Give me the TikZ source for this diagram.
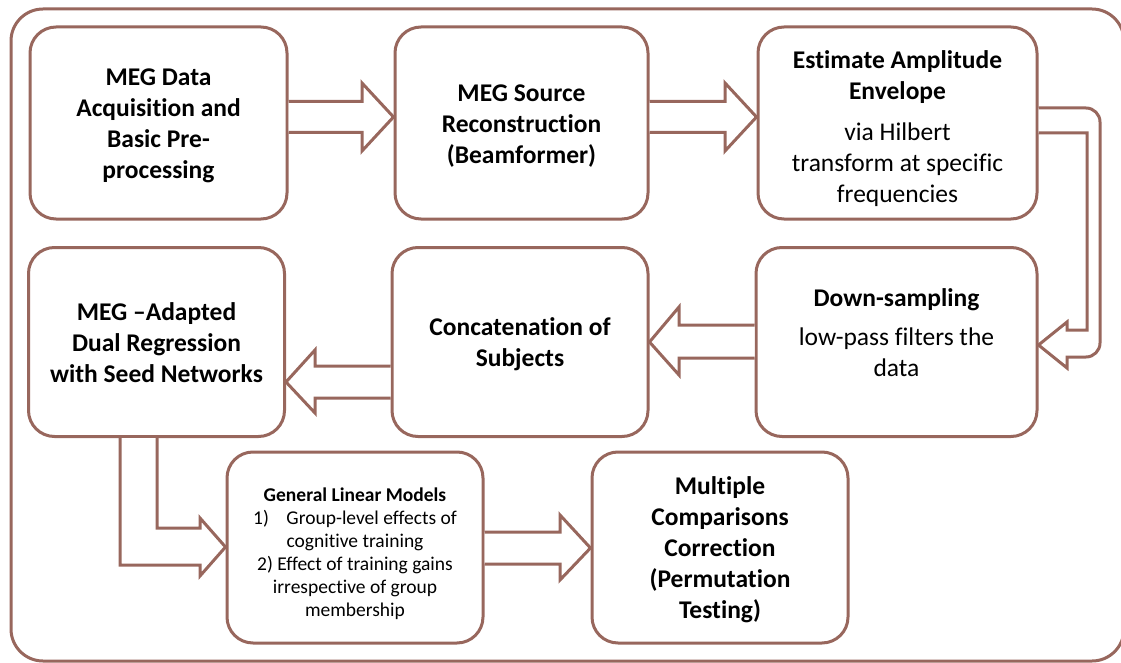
\documentclass[tikz,border=0pt]{standalone}
\usepackage{fontspec}
\setmainfont{Carlito}[Ligatures=NoCommon]
\usetikzlibrary{calc}
\definecolor{brn}{RGB}{152,103,93}
\begin{document}
\begin{tikzpicture}[x=1pt,y=-1pt,
  box/.style={draw=brn,line width=3pt,rounded corners=26pt,fill=white,inner sep=0pt},
  txt/.style={align=center,inner sep=0pt,font=\fontsize{25.5}{31}\selectfont\bfseries},
  barrow/.style={draw=brn,line width=3pt,fill=white,line join=miter},
  frame/.style={draw=brn,line width=3pt,rounded corners=32pt}]
\useasboundingbox (0,0) rectangle (1121,663);
\draw[frame] (11,9) rectangle (1124,661);

\node[box,minimum width=257pt,minimum height=192pt] (b1) at (158.5,123) {};
\node[box,minimum width=253pt,minimum height=192pt] (b2) at (521.5,123) {};
\node[box,minimum width=279pt,minimum height=192pt] (b3) at (897.5,123) {};
\node[box,minimum width=256pt,minimum height=189pt] (b4) at (156.5,342) {};
\node[box,minimum width=256pt,minimum height=189pt] (b5) at (520,342) {};
\node[box,minimum width=281pt,minimum height=189pt] (b6) at (896.5,342) {};
\node[box,minimum width=256pt,minimum height=191pt] (b7) at (355,547.5) {};
\node[box,minimum width=256pt,minimum height=191pt] (b8) at (720,547.5) {};

\node[txt] (t1) at ($(b1.center)+(0,3)$) {MEG Data\\Acquisition and\\Basic Pre-\\processing};
\node[txt] (t2) at ($(b2.center)+(0,3.5)$) {MEG Source\\Reconstruction\\(Beamformer)};
\node[txt] (t3) at ($(b3.center)+(0,6)$)
  {Estimate Amplitude\\Envelope\\[10pt]\mdseries via Hilbert\\\mdseries transform at specific\\\mdseries frequencies};
\node[txt] (t4) at ($(b4.center)+(0,1)$) {MEG --Adapted\\Dual Regression\\with Seed Networks};
\node[txt] (t5) at ($(b5.center)+(0,2)$) {Concatenation of\\Subjects};
\node[txt] (t6) at ($(b6.center)+(0,-9)$)
  {Down-sampling\\[8pt]\mdseries low-pass filters the\\\mdseries data};
\node[txt,font=\fontsize{19.5}{23}\selectfont] (t7) at ($(b7.center)+(0,6)$)
  {\textbf{General Linear Models}\\1)\hspace{0.9em}Group-level effects of\\cognitive training\\2) Effect of training gains\\irrespective of group\\membership};
\node[txt] (t8) at ($(b8.center)+(0,2)$) {Multiple\\Comparisons\\Correction\\(Permutation\\Testing)};

% 1 -> 2
\draw[barrow] (b1.east |- 0,101.5) -- (362,101.5) -- (362,83) -- (b2.west |- 0,117)
  -- (362,151) -- (362,132.5) -- (b1.east |- 0,132.5);
% 2 -> 3
\draw[barrow] (b2.east |- 0,101.5) -- (725,101.5) -- (725,83) -- (b3.west |- 0,117)
  -- (725,151) -- (725,132.5) -- (b2.east |- 0,132.5);
% 3 -> 6 (bent)
\draw[barrow] (b3.east |- 0,108) -- (1086,108) arc(90:0:14pt) -- (1100,343) arc(0:-90:14pt)
  -- (1067,357) -- (1067,368) -- (b6.east |- 0,345) -- (1067,322) -- (1067,330)
  -- (1087,330) -- (1087,133) -- (b3.east |- 0,133);
% 6 -> 5
\draw[barrow] (b6.west |- 0,325) -- (679,325) -- (679,307) -- (b5.east |- 0,342)
  -- (679,375) -- (679,358) -- (b6.west |- 0,358);
% 5 -> 4
\draw[barrow] (b5.west |- 0,366) -- (315,366) -- (315,350) -- (b4.east |- 0,382)
  -- (315,413) -- (315,398) -- (b5.west |- 0,398);
% 4 -> 7 (bent)
\draw[barrow] (120,0 |- b4.south) -- (120,565) -- (200,565) -- (200,576) -- (b7.west |- 0,547)
  -- (200,518) -- (200,528) -- (157,528) -- (157,0 |- b4.south);
% 7 -> 8
\draw[barrow] (b7.east |- 0,532) -- (560,532) -- (560,515) -- (b8.west |- 0,548)
  -- (560,580) -- (560,564) -- (b7.east |- 0,564);
\end{tikzpicture}
\end{document}
